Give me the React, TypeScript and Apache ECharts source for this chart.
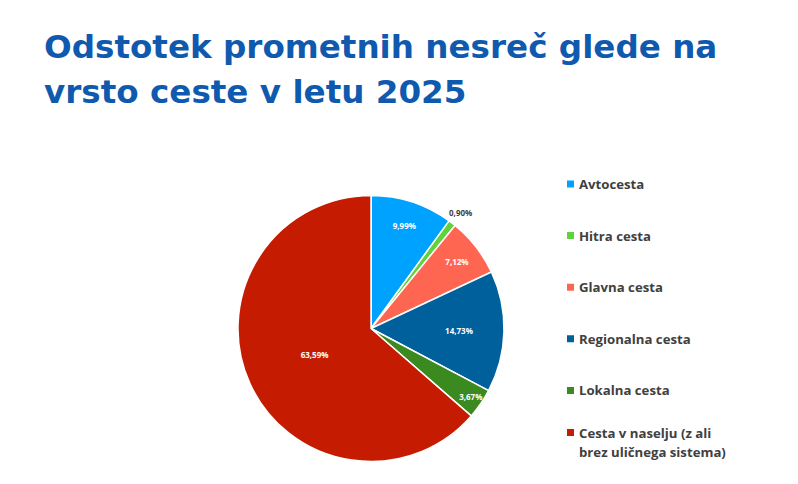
import React, { useEffect, useRef } from "react";
import * as echarts from "echarts";

const titleLines = ["Odstotek prometnih nesreč glede na", "vrsto ceste v letu 2025"];
const categories = [
  "Avtocesta",
  "Hitra cesta",
  "Glavna cesta",
  "Regionalna cesta",
  "Lokalna cesta",
  "Cesta v naselju (z ali brez uličnega sistema)",
];
const legendLabels = [
  "Avtocesta",
  "Hitra cesta",
  "Glavna cesta",
  "Regionalna cesta",
  "Lokalna cesta",
  "Cesta v naselju (z ali\nbrez uličnega sistema)",
];
const shares = [9.99, 0.9, 7.12, 14.73, 3.67, 63.59];

// styling
const colors = ["#00A2FF", "#5FD33A", "#FF6652", "#00609C", "#3A8A1F", "#C51B00"];
const labelColors = ["#FFFFFF", "#404040", "#FFFFFF", "#FFFFFF", "#FFFFFF", "#FFFFFF"];
const labelRadius = [105, 144, 106, 85, 118, 59];
const FONT = "'Open Sans', 'Noto Sans', sans-serif";
const TITLE_FONT = "'DejaVu Sans', 'Open Sans', sans-serif";
const CENTER = [371, 328.5];
const R = 133;

const iconMid = "path://M0 0L0.01 0M0 40L0.01 40M0 16.5H7V23.5H0Z";
const iconTop = "path://M0 0L0.01 0M0 40L0.01 40M0 7H7V14H0Z";

const fmt = (v: number) => v.toFixed(2).replace(".", ",") + "%";

export default function App() {
  const ref = useRef<HTMLDivElement>(null);
  useEffect(() => {
    document.body.style.margin = "0";
    if (!ref.current) return;
    const chart = echarts.init(ref.current, null, { renderer: "svg" });

    const labelSeries = categories.map((_, i) => ({
      type: "pie" as const,
      silent: true,
      center: CENTER,
      radius: [labelRadius[i] - 4, labelRadius[i] + 4],
      startAngle: 90,
      clockwise: true,
      z: 5,
      itemStyle: { color: "transparent", borderWidth: 0 },
      labelLine: { show: false },
      emphasis: { disabled: true },
      label: {
        show: true,
        position: "inside",
        color: labelColors[i],
        fontFamily: FONT,
        fontWeight: "bold",
        fontSize: 8,
        formatter: (p: any) => fmt(p.value),
      },
      data: shares.map((v, j) => ({
        value: v,
        name: categories[j],
        label: { show: j === i },
      })),
    }));

    chart.setOption({
      animation: false,
      backgroundColor: "#ffffff",
      title: {
        text: titleLines.join("\n"),
        left: 39,
        top: 19.5,
        textStyle: {
          color: "#0F5AAE",
          fontFamily: TITLE_FONT,
          fontWeight: "bold",
          fontSize: 32.6,
          lineHeight: 45,
        },
      },
      legend: {
        orient: "vertical",
        left: 567,
        top: 164,
        padding: 0,
        itemWidth: 7,
        itemHeight: 40,
        itemGap: 11.6,
        selectedMode: false,
        formatter: (name: string) => legendLabels[categories.indexOf(name)],
        textStyle: {
          color: "#404040",
          fontFamily: FONT,
          fontWeight: "bold",
          fontSize: 13.2,
          lineHeight: 19,
        },
        data: categories.map((name, i) => ({
          name,
          icon: i === categories.length - 1 ? iconTop : iconMid,
          itemStyle: { color: colors[i], borderWidth: 0 },
        })),
      },
      series: [
        {
          type: "pie",
          center: CENTER,
          radius: [0, R],
          startAngle: 90,
          clockwise: true,
          label: { show: false },
          labelLine: { show: false },
          emphasis: { disabled: true },
          itemStyle: { borderColor: "#ffffff", borderWidth: 1.5 },
          data: shares.map((v, i) => ({
            value: v,
            name: categories[i],
            itemStyle: { color: colors[i] },
          })),
        },
        ...labelSeries,
      ],
    });
    return () => chart.dispose();
  }, []);
  return <div ref={ref} style={{ width: 798, height: 484 }} />;
}
